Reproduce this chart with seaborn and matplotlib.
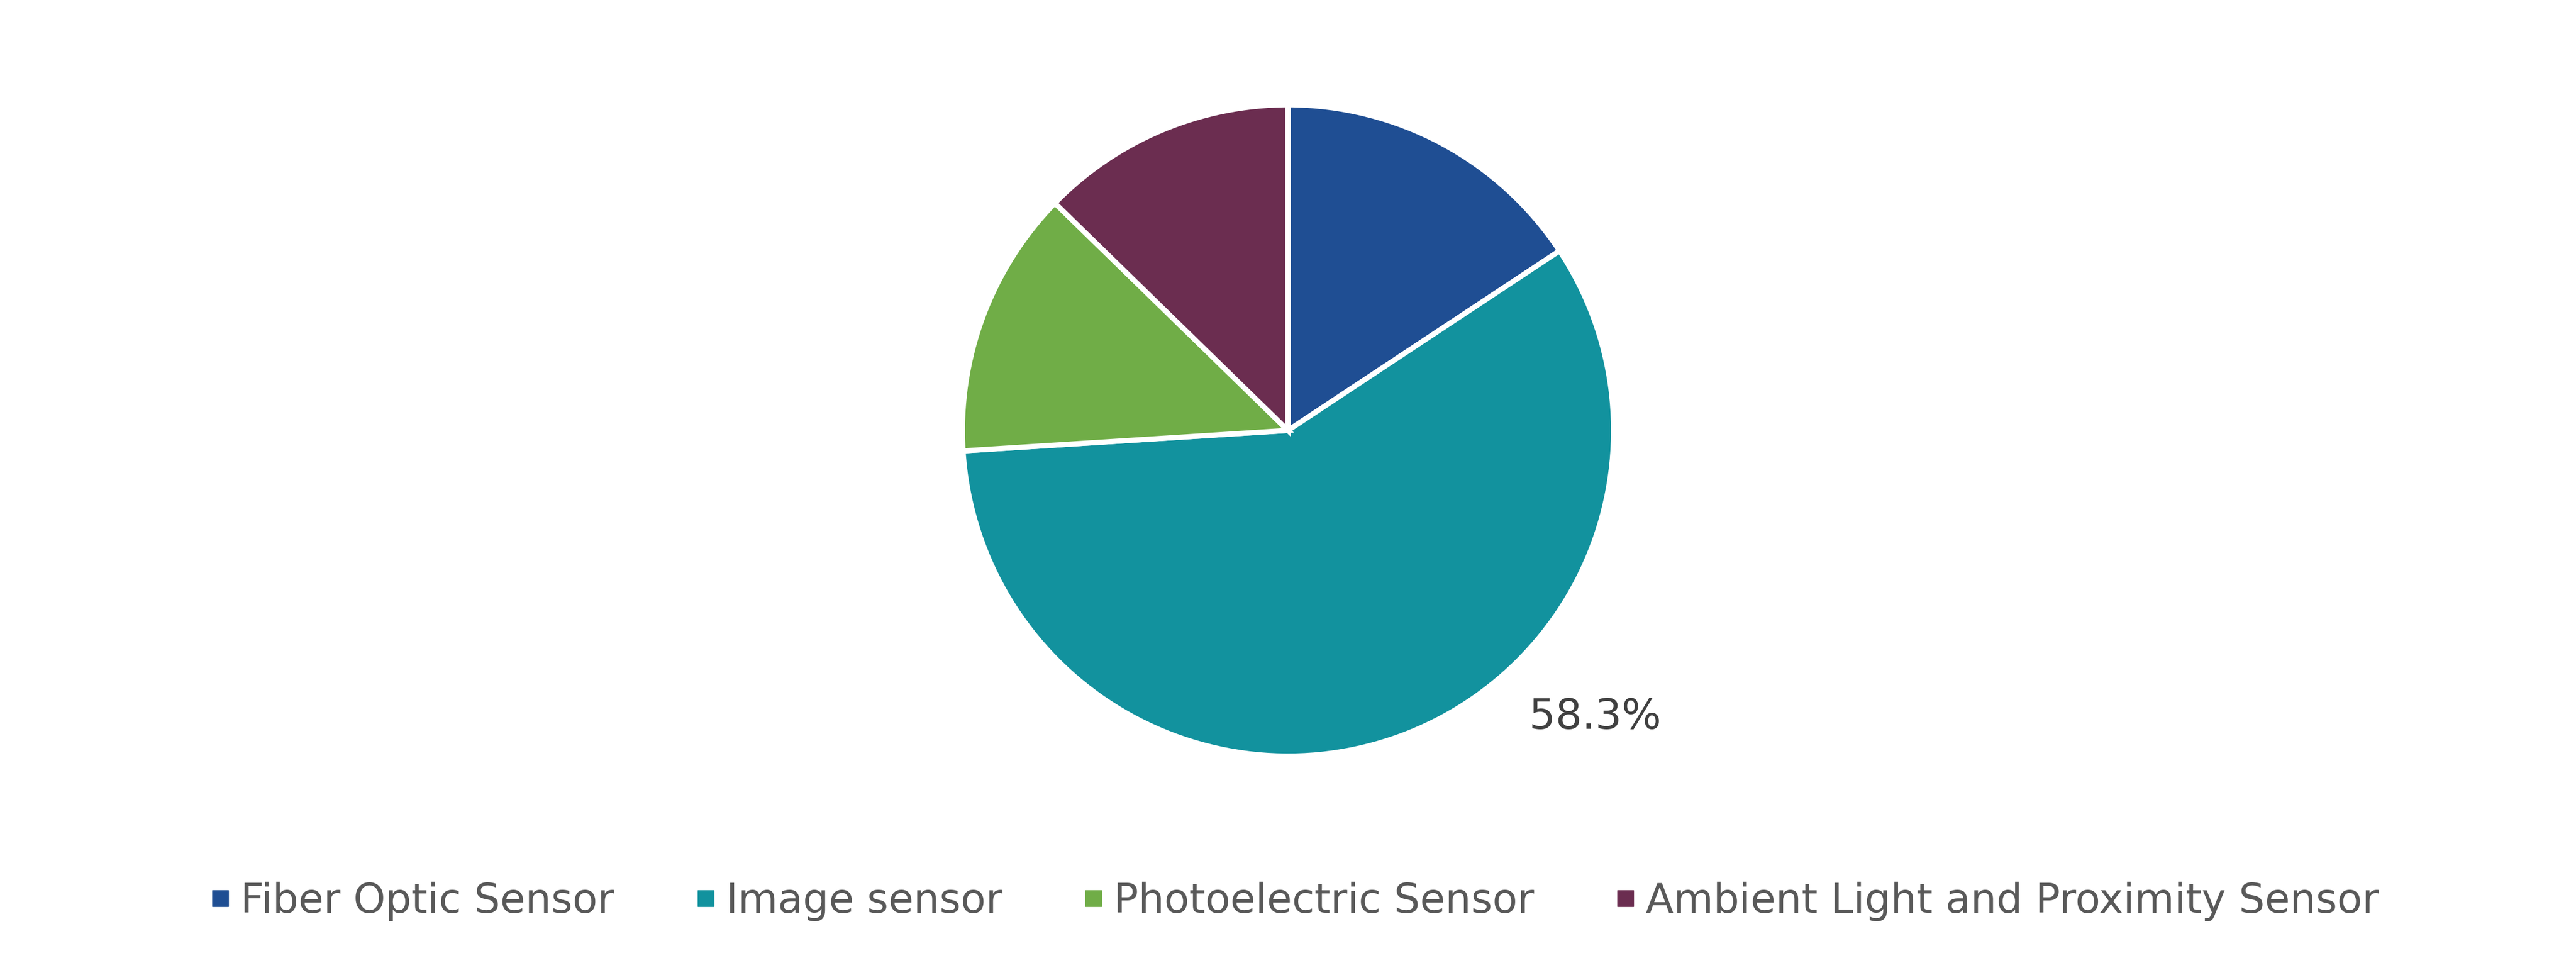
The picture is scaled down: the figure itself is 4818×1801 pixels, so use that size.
import matplotlib
matplotlib.use("Agg")
import matplotlib.pyplot as plt
from matplotlib.lines import Line2D
import numpy as np
import seaborn as sns

categories = ["Fiber Optic Sensor", "Image sensor", "Photoelectric Sensor",
              "Ambient Light and Proximity Sensor"]
shares = [15.7, 58.3, 13.3, 12.7]
colors = ["#1F4E93", "#12929E", "#70AD47", "#6B2D50"]
shown_label = "58.3%"

sns.set_theme(style="white")
plt.rcParams['font.family'] = ['DejaVu Sans']

fig = plt.figure(figsize=(48.18, 18.01), dpi=100)
ax = fig.add_axes([0, 0, 1, 1])
ax.set_aspect('equal')

wedges, _ = ax.pie(shares, colors=colors, startangle=90, counterclock=False,
                   radius=1.0, center=(0, 0),
                   wedgeprops=dict(edgecolor="white", linewidth=7))

# data label for the image sensor slice
ang = np.deg2rad(-43)
ax.text(1.29 * np.cos(ang), 1.29 * np.sin(ang), shown_label, fontsize=56,
        color="#404040", ha="center", va="center")

r_px = 609.0
cx, cy = 2409.0, 805.0
W, H = 4818.0, 1801.0
ax.set_xlim(-cx / r_px, (W - cx) / r_px)
ax.set_ylim(-(H - cy) / r_px, cy / r_px)
ax.axis('off')

handles = [Line2D([0], [0], marker='s', linestyle='none', markersize=22,
                  markerfacecolor=c, markeredgecolor=c) for c in colors]
leg = fig.legend(handles, categories, loc='center', bbox_to_anchor=(0.501, 0.064),
                 ncol=4, frameon=False, fontsize=55, handletextpad=0.05,
                 columnspacing=1.78, handlelength=0.9)
for t in leg.get_texts():
    t.set_color("#595959")

fig.savefig("out.png", dpi=100, facecolor="white")
